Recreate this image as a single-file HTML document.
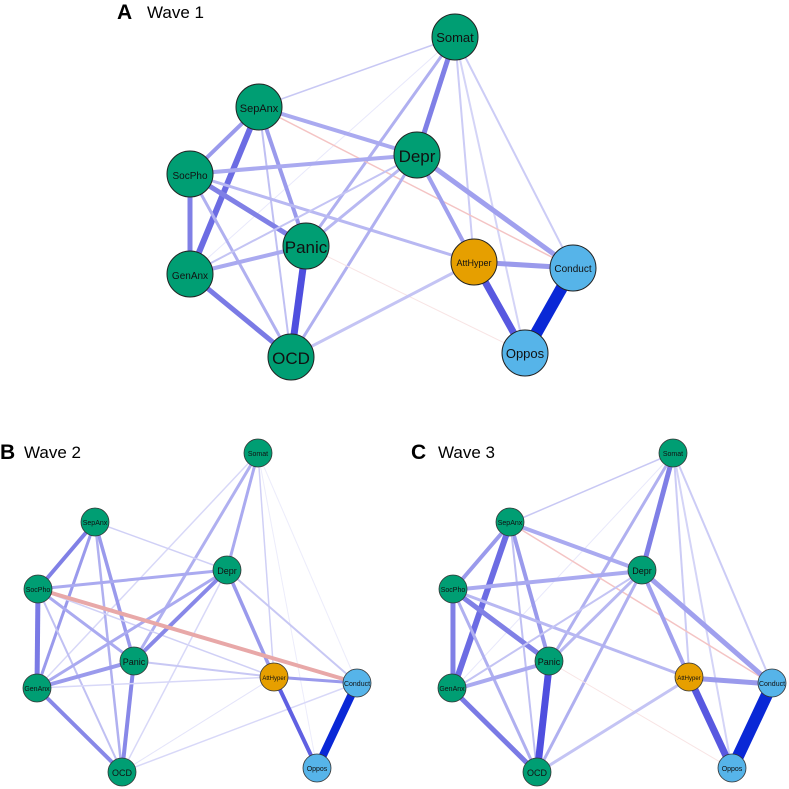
<!DOCTYPE html>
<html><head><style>
body{margin:0;background:#fff}
svg{display:block}
text{font-family:"Liberation Sans",Arial,sans-serif}
#eA line{vector-effect:non-scaling-stroke}
</style></head><body>
<svg width="789" height="789" viewBox="0 0 789 789" xmlns="http://www.w3.org/2000/svg">
<defs>
<g id="eA" stroke-linecap="butt">
<line x1="455" y1="37" x2="259" y2="107" stroke="#c8c8f4" stroke-width="1.5"/>
<line x1="455" y1="37" x2="190" y2="274" stroke="#e8e8fb" stroke-width="1"/>
<line x1="455" y1="37" x2="417" y2="155" stroke="#7f7fe6" stroke-width="5"/>
<line x1="455" y1="37" x2="306" y2="246" stroke="#b0b0f0" stroke-width="3"/>
<line x1="455" y1="37" x2="474" y2="262" stroke="#ccccf6" stroke-width="2"/>
<line x1="455" y1="37" x2="525" y2="353" stroke="#d4d4f7" stroke-width="2"/>
<line x1="455" y1="37" x2="573" y2="268" stroke="#ccccf6" stroke-width="2"/>
<line x1="259" y1="107" x2="417" y2="155" stroke="#aaaaf0" stroke-width="4"/>
<line x1="259" y1="107" x2="573" y2="268" stroke="#f4c4c4" stroke-width="1.5"/>
<line x1="259" y1="107" x2="190" y2="174" stroke="#9a9aec" stroke-width="4"/>
<line x1="259" y1="107" x2="190" y2="274" stroke="#6c6ce3" stroke-width="6"/>
<line x1="259" y1="107" x2="306" y2="246" stroke="#9a9aec" stroke-width="4"/>
<line x1="259" y1="107" x2="291" y2="357" stroke="#c0c0f3" stroke-width="2"/>
<line x1="190" y1="174" x2="417" y2="155" stroke="#aaaaf0" stroke-width="4"/>
<line x1="190" y1="174" x2="306" y2="246" stroke="#8080e6" stroke-width="5"/>
<line x1="190" y1="174" x2="190" y2="274" stroke="#8080e6" stroke-width="5"/>
<line x1="190" y1="174" x2="291" y2="357" stroke="#b0b0f0" stroke-width="3"/>
<line x1="190" y1="174" x2="474" y2="262" stroke="#b8b8f2" stroke-width="3"/>
<line x1="417" y1="155" x2="190" y2="274" stroke="#c4c4f4" stroke-width="2"/>
<line x1="417" y1="155" x2="306" y2="246" stroke="#b8b8f2" stroke-width="3"/>
<line x1="417" y1="155" x2="291" y2="357" stroke="#b0b0f0" stroke-width="3"/>
<line x1="417" y1="155" x2="474" y2="262" stroke="#a0a0ee" stroke-width="4"/>
<line x1="417" y1="155" x2="573" y2="268" stroke="#a0a0ee" stroke-width="5"/>
<line x1="190" y1="274" x2="306" y2="246" stroke="#aaaaf0" stroke-width="4"/>
<line x1="190" y1="274" x2="291" y2="357" stroke="#7a7ae5" stroke-width="5"/>
<line x1="306" y1="246" x2="291" y2="357" stroke="#4f4fdf" stroke-width="7"/>
<line x1="306" y1="246" x2="525" y2="353" stroke="#f8e4e4" stroke-width="1"/>
<line x1="291" y1="357" x2="474" y2="262" stroke="#c4c4f4" stroke-width="3"/>
<line x1="474" y1="262" x2="573" y2="268" stroke="#9a9aec" stroke-width="5"/>
<line x1="474" y1="262" x2="525" y2="353" stroke="#5858e0" stroke-width="7"/>
<line x1="573" y1="268" x2="525" y2="353" stroke="#0a28d6" stroke-width="12"/>
</g>
<g id="e2">
<line x1="258" y1="453" x2="37" y2="688" stroke="#d8d8f8" stroke-width="1.5"/>
<line x1="258" y1="453" x2="134" y2="661" stroke="#b0b0f0" stroke-width="3"/>
<line x1="258" y1="453" x2="227" y2="570" stroke="#aaaaf0" stroke-width="3"/>
<line x1="258" y1="453" x2="274" y2="677" stroke="#d0d0f6" stroke-width="1.5"/>
<line x1="258" y1="453" x2="357" y2="683" stroke="#ececfb" stroke-width="1"/>
<line x1="258" y1="453" x2="317" y2="768" stroke="#ececfb" stroke-width="1"/>
<line x1="95" y1="522" x2="38" y2="589" stroke="#8080e6" stroke-width="4"/>
<line x1="95" y1="522" x2="37" y2="688" stroke="#9a9aec" stroke-width="3"/>
<line x1="95" y1="522" x2="134" y2="661" stroke="#9a9aec" stroke-width="3.5"/>
<line x1="95" y1="522" x2="122" y2="772" stroke="#b0b0f0" stroke-width="2.5"/>
<line x1="95" y1="522" x2="227" y2="570" stroke="#d0d0f6" stroke-width="1.5"/>
<line x1="38" y1="589" x2="227" y2="570" stroke="#aaaaf0" stroke-width="3"/>
<line x1="38" y1="589" x2="37" y2="688" stroke="#7a7ae5" stroke-width="5"/>
<line x1="38" y1="589" x2="134" y2="661" stroke="#aaaaf0" stroke-width="3"/>
<line x1="38" y1="589" x2="122" y2="772" stroke="#c0c0f3" stroke-width="2"/>
<line x1="38" y1="589" x2="274" y2="677" stroke="#d0d0f6" stroke-width="1.5"/>
<line x1="227" y1="570" x2="37" y2="688" stroke="#aaaaf0" stroke-width="3"/>
<line x1="227" y1="570" x2="134" y2="661" stroke="#8888e8" stroke-width="4"/>
<line x1="227" y1="570" x2="274" y2="677" stroke="#9a9aec" stroke-width="3.5"/>
<line x1="227" y1="570" x2="357" y2="683" stroke="#c8c8f4" stroke-width="2"/>
<line x1="227" y1="570" x2="122" y2="772" stroke="#d8d8f8" stroke-width="1.5"/>
<line x1="134" y1="661" x2="37" y2="688" stroke="#9a9aec" stroke-width="4"/>
<line x1="134" y1="661" x2="122" y2="772" stroke="#8888e8" stroke-width="4"/>
<line x1="134" y1="661" x2="274" y2="677" stroke="#c8c8f4" stroke-width="2"/>
<line x1="37" y1="688" x2="122" y2="772" stroke="#8888e8" stroke-width="4"/>
<line x1="37" y1="688" x2="274" y2="677" stroke="#d8d8f8" stroke-width="1.5"/>
<line x1="122" y1="772" x2="357" y2="683" stroke="#d8d8f8" stroke-width="1.5"/>
<line x1="122" y1="772" x2="274" y2="677" stroke="#e4e4fa" stroke-width="1"/>
<line x1="274" y1="677" x2="357" y2="683" stroke="#9a9aec" stroke-width="3"/>
<line x1="274" y1="677" x2="317" y2="768" stroke="#6060e2" stroke-width="4"/>
<line x1="357" y1="683" x2="317" y2="768" stroke="#0a28d6" stroke-width="8"/>
</g>
<g id="n2" stroke="#333" stroke-width="0.8">
<circle cx="258" cy="453" r="14" fill="#009e73"/>
<circle cx="95" cy="522" r="14" fill="#009e73"/>
<circle cx="227" cy="570" r="14" fill="#009e73"/>
<circle cx="38" cy="589" r="14" fill="#009e73"/>
<circle cx="134" cy="661" r="14" fill="#009e73"/>
<circle cx="274" cy="677" r="14" fill="#e69f00"/>
<circle cx="357" cy="683" r="14" fill="#56b4e9"/>
<circle cx="37" cy="688" r="14" fill="#009e73"/>
<circle cx="122" cy="772" r="14" fill="#009e73"/>
<circle cx="317" cy="768" r="14" fill="#56b4e9"/>
</g>
</defs>
<use href="#eA"/>
<g stroke="#222" stroke-width="1">
<circle cx="455" cy="37" r="23" fill="#009e73"/>
<circle cx="259" cy="107" r="23" fill="#009e73"/>
<circle cx="417" cy="155" r="23" fill="#009e73"/>
<circle cx="190" cy="174" r="23" fill="#009e73"/>
<circle cx="306" cy="246" r="23" fill="#009e73"/>
<circle cx="474" cy="262" r="23" fill="#e69f00"/>
<circle cx="573" cy="268" r="23" fill="#56b4e9"/>
<circle cx="190" cy="274" r="23" fill="#009e73"/>
<circle cx="291" cy="357" r="23" fill="#009e73"/>
<circle cx="525" cy="353" r="23" fill="#56b4e9"/>
</g>
<g fill="#111" text-anchor="middle">
<text x="455" y="42" font-size="13">Somat</text>
<text x="259" y="112" font-size="11">SepAnx</text>
<text x="417" y="162" font-size="17">Depr</text>
<text x="190" y="179" font-size="10">SocPho</text>
<text x="306" y="253" font-size="17">Panic</text>
<text x="474" y="266" font-size="9">AttHyper</text>
<text x="573" y="272" font-size="10">Conduct</text>
<text x="190" y="279" font-size="10">GenAnx</text>
<text x="291" y="364" font-size="17">OCD</text>
<text x="525" y="358" font-size="13">Oppos</text>
</g>
<text x="117" y="19" font-size="21" font-weight="bold">A</text>
<text x="147" y="18" font-size="17">Wave 1</text>
<text x="0" y="459" font-size="21" font-weight="bold">B</text>
<text x="24" y="458" font-size="17">Wave 2</text>
<text x="411" y="459" font-size="21" font-weight="bold">C</text>
<text x="438" y="458" font-size="17">Wave 3</text>

<use href="#e2"/>
<line x1="38" y1="589" x2="357" y2="683" stroke="#e8a8a8" stroke-width="4"/>
<use href="#n2"/>
<use href="#eA" transform="matrix(0.833,0,0,1,294.7,416)"/>
<use href="#n2" transform="translate(415,0)"/>
<g fill="#111" text-anchor="middle" font-size="7">
<text x="258" y="456">Somat</text><text x="95" y="525">SepAnx</text><text x="227" y="574" font-size="9">Depr</text>
<text x="38" y="592">SocPho</text><text x="134" y="665" font-size="9">Panic</text><text x="274" y="680" font-size="6">AttHyper</text>
<text x="357" y="686">Conduct</text><text x="37" y="691">GenAnx</text><text x="122" y="776" font-size="9">OCD</text><text x="317" y="771">Oppos</text>
<text x="673" y="456">Somat</text><text x="510" y="525">SepAnx</text><text x="642" y="574" font-size="9">Depr</text>
<text x="453" y="592">SocPho</text><text x="549" y="665" font-size="9">Panic</text><text x="689" y="680" font-size="6">AttHyper</text>
<text x="772" y="686">Conduct</text><text x="452" y="691">GenAnx</text><text x="537" y="776" font-size="9">OCD</text><text x="732" y="771">Oppos</text>
</g>
</svg>
</body></html>
